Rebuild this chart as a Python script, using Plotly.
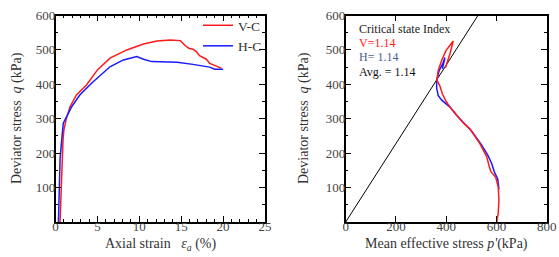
import plotly.graph_objects as go

# ---- data: left panel (axial strain %, deviator stress kPa)
vc_strain = [0.54, 0.58, 0.66, 0.74, 0.81, 0.9, 1.0, 1.25, 1.73, 2.5, 3.7, 5.0, 6.5, 8.5, 10.5, 12.1, 13.7,
             14.9, 15.5, 15.9, 16.4, 16.8, 17.2, 18.0, 18.4, 19.2, 19.8]
vc_q = [0, 30, 92, 150, 199, 240, 267, 296, 335, 369, 398, 442, 476, 500, 517, 526, 529,
        527, 512, 505, 502, 495, 483, 473, 461, 454, 447]
hc_strain = [0.35, 0.42, 0.45, 0.55, 0.74, 0.93, 1.33, 1.93, 2.9, 4.3, 6.5, 8.1, 9.7, 10.5, 11.5, 14.5,
             16.4, 18.4, 19.0, 20.0]
hc_q = [0, 80, 131, 185, 238, 287, 306, 335, 369, 403, 451, 471, 481, 473, 466, 464,
        458, 450, 444, 444]

# ---- data: right panel (mean effective stress kPa, deviator stress kPa)
vc_p = [601, 607, 610, 607, 597, 578, 572, 561, 534, 495, 468, 442, 415, 400, 385, 375, 363,
        368, 382, 399, 428, 415, 402, 397]
vc_q2 = [0, 25, 64, 102, 130, 146, 160, 190, 228, 270, 288, 310, 334, 350, 372, 395, 412,
         440, 470, 498, 526, 489, 462, 448]
hc_p = [610, 605, 592, 581, 565, 540, 500, 468, 441, 415, 382, 368, 362, 362, 372, 387, 395, 390, 385]
hc_q2 = [95, 125, 145, 170, 195, 225, 265, 288, 310, 334, 354, 368, 390, 412, 440, 462, 478, 462, 445]
csl_p = [0, 526.3]
csl_q = [0, 600]

left_xticks = [0, 5, 10, 15, 20, 25]
q_ticks = [100, 200, 300, 400, 500, 600]
right_xticks = [0, 200, 400, 600, 800]

RED = "#ff1a1a"
BLUE = "#1a1aff"
FONT = "Liberation Serif"
W, H = 559, 257

fig = go.Figure()
fig.add_trace(go.Scatter(x=vc_strain, y=vc_q, mode="lines", name="V-C",
                         line=dict(color=RED, width=1.5), xaxis="x", yaxis="y"))
fig.add_trace(go.Scatter(x=hc_strain, y=hc_q, mode="lines", name="H-C",
                         line=dict(color=BLUE, width=1.5), xaxis="x", yaxis="y"))
fig.add_trace(go.Scatter(x=csl_p, y=csl_q, mode="lines", showlegend=False,
                         line=dict(color="black", width=1), xaxis="x2", yaxis="y2"))
fig.add_trace(go.Scatter(x=hc_p, y=hc_q2, mode="lines", showlegend=False,
                         line=dict(color=BLUE, width=1.5), xaxis="x2", yaxis="y2"))
fig.add_trace(go.Scatter(x=vc_p, y=vc_q2, mode="lines", showlegend=False,
                         line=dict(color=RED, width=1.5), xaxis="x2", yaxis="y2"))

def px_x(v):
    return v / W

def px_y(v):
    return 1 - v / H

axis_common = dict(showline=True, linecolor="black", linewidth=1.5, mirror="ticks",
                   ticks="inside", ticklen=6, tickcolor="black", tickwidth=1,
                   showgrid=False, zeroline=False, automargin=False,
                   tickfont=dict(family=FONT, size=13, color="#444"))

ydom = [px_y(222), px_y(15.5)]
fig.update_layout(
    width=W, height=H, margin=dict(l=0, r=0, t=0, b=0, pad=0),
    paper_bgcolor="white", plot_bgcolor="white",
    font=dict(family=FONT, color="#333"),
    xaxis=dict(domain=[px_x(55.5), px_x(265)], range=[0, 25], tickmode="array",
               tickvals=left_xticks, ticklabelstandoff=-8,
               minor=dict(ticks="inside", dtick=1, ticklen=3, tickcolor="black"),
               anchor="y", **axis_common),
    yaxis=dict(domain=ydom, range=[0, 600], tickmode="array", tickvals=q_ticks,
               ticklabelstandoff=-4,
               minor=dict(ticks="inside", dtick=50, tick0=0, ticklen=3, tickcolor="black"),
               anchor="x", **axis_common),
    xaxis2=dict(domain=[px_x(345.7), px_x(546.7)], range=[0, 800], tickmode="array",
                tickvals=right_xticks, ticklabelstandoff=-8, anchor="y2", **axis_common),
    yaxis2=dict(domain=ydom, range=[0, 600], tickmode="array", tickvals=q_ticks,
                ticklabelstandoff=-4,
                minor=dict(ticks="inside", dtick=50, tick0=0, ticklen=3, tickcolor="black"),
                anchor="x2", **axis_common),
    showlegend=True,
    legend=dict(x=px_x(198), y=px_y(10), xanchor="left", yanchor="top",
                bgcolor="rgba(0,0,0,0)", font=dict(family=FONT, size=13.5, color="#333"),
                tracegroupgap=0, itemwidth=30),
)

title_font = dict(family=FONT, size=14, color="#333")
ann = [
    dict(text="Deviator stress  <i>q</i> (kPa)", x=px_x(17), y=px_y(118), textangle=-90),
    dict(text="Axial strain   <i>ε<sub>a</sub></i> (%)", x=px_x(160), y=px_y(244)),
    dict(text="Deviator stress  <i>q</i> (kPa)", x=px_x(304), y=px_y(118), textangle=-90),
    dict(text="Mean effective stress <i>p'</i>(kPa)", x=px_x(446), y=px_y(244)),
]
for a in ann:
    fig.add_annotation(xref="paper", yref="paper", showarrow=False, font=title_font,
                       xanchor="center", yanchor="middle", **a)

labels = [("Critical state Index", 29, "#222"), ("V=1.14", 43, RED),
          ("H= 1.14", 57, "#4a5f8f"), ("Avg. = 1.14", 72, "#111")]
for txt, yy, col in labels:
    fig.add_annotation(xref="paper", yref="paper", showarrow=False, text=txt,
                       x=px_x(357), y=px_y(yy), xanchor="left", yanchor="middle",
                       font=dict(family=FONT, size=12, color=col))

fig.write_html("out.html", config={"displayModeBar": False},
               post_script="document.body.style.margin='0';document.body.style.overflow='hidden';")
